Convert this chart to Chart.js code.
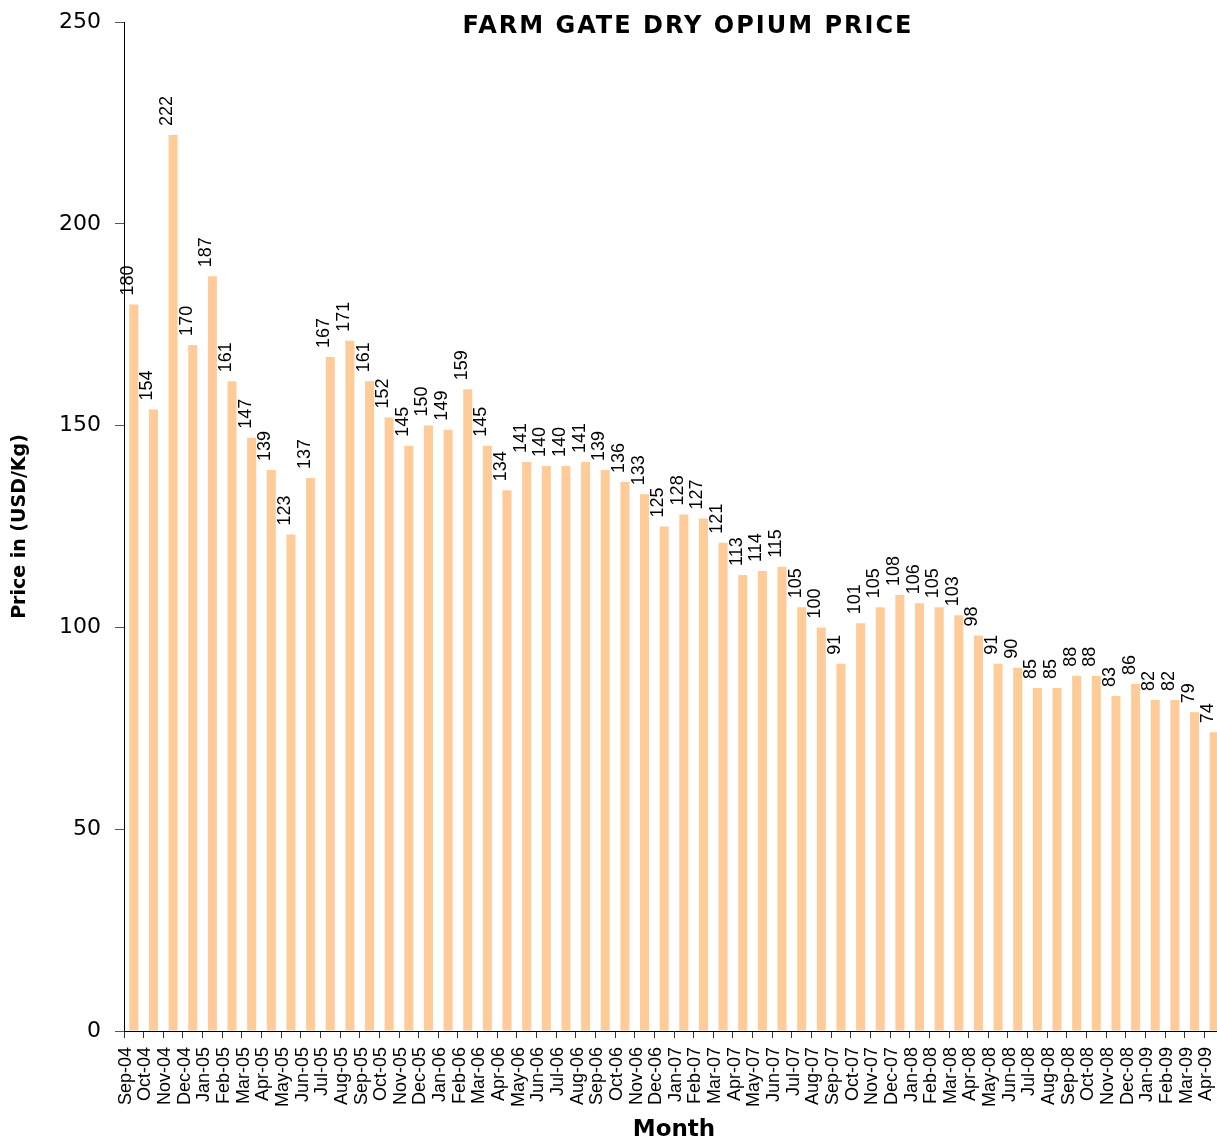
<!DOCTYPE html>
<html>
<head>
<meta charset="utf-8">
<script src="https://cdn.jsdelivr.net/npm/chart.js@4/dist/chart.umd.min.js"></script>
<style>
    html, body { margin: 0; padding: 0; overflow: hidden; background: #fff; }
    canvas { display: block; }
</style>
</head>
<body>
<canvas id="price-chart" width="1224" height="1142"></canvas>
<script>
(function() {
    "use strict";

    const chartTitle = 'FARM GATE DRY OPIUM PRICE';
    const yTitle = 'Price in (USD/Kg)';
    const xTitle = 'Month';

    const months = [
        'Sep-04', 'Oct-04', 'Nov-04', 'Dec-04',
        'Jan-05', 'Feb-05', 'Mar-05', 'Apr-05', 'May-05', 'Jun-05', 'Jul-05', 'Aug-05', 'Sep-05', 'Oct-05', 'Nov-05', 'Dec-05',
        'Jan-06', 'Feb-06', 'Mar-06', 'Apr-06', 'May-06', 'Jun-06', 'Jul-06', 'Aug-06', 'Sep-06', 'Oct-06', 'Nov-06', 'Dec-06',
        'Jan-07', 'Feb-07', 'Mar-07', 'Apr-07', 'May-07', 'Jun-07', 'Jul-07', 'Aug-07', 'Sep-07', 'Oct-07', 'Nov-07', 'Dec-07',
        'Jan-08', 'Feb-08', 'Mar-08', 'Apr-08', 'May-08', 'Jun-08', 'Jul-08', 'Aug-08', 'Sep-08', 'Oct-08', 'Nov-08', 'Dec-08',
        'Jan-09', 'Feb-09', 'Mar-09', 'Apr-09'
    ];

    const prices = [
        180, 154, 222, 170,
        187, 161, 147, 139, 123, 137, 167, 171, 161, 152, 145, 150,
        149, 159, 145, 134, 141, 140, 140, 141, 139, 136, 133, 125,
        128, 127, 121, 113, 114, 115, 105, 100, 91, 101, 105, 108,
        106, 105, 103, 98, 91, 90, 85, 85, 88, 88, 83, 86,
        82, 82, 79, 74
    ];

    const yTicks = [0, 50, 100, 150, 200, 250];

    // value labels above the bars + the title that sits inside the plot
    const barLabels = {
        id: 'barLabels',
        afterDatasetsDraw(chart) {
            const ctx = chart.ctx;
            const meta = chart.getDatasetMeta(0);
            ctx.save();
            ctx.fillStyle = '#000';
            ctx.font = '18px "Liberation Sans", Arial, sans-serif';
            ctx.textAlign = 'left';
            ctx.textBaseline = 'middle';
            meta.data.forEach(function(bar, i) {
                ctx.save();
                ctx.translate(bar.x - 6, bar.y - 9);
                ctx.rotate(-Math.PI / 2);
                ctx.fillText(String(prices[i]), 0, 0);
                ctx.restore();
            });

            const area = chart.chartArea;
            ctx.font = 'bold 24px "DejaVu Sans", sans-serif';
            ctx.letterSpacing = '2px';
            ctx.textAlign = 'center';
            ctx.fillText(chartTitle, (area.left + area.right) / 2 + 14, 27);
            ctx.restore();
        }
    };

    new Chart(document.getElementById('price-chart'), {
        type: 'bar',
        data: {
            labels: months,
            datasets: [{
                data: prices,
                backgroundColor: '#FFCC99',
                borderWidth: 0,
                barPercentage: 0.92,
                categoryPercentage: 0.5
            }]
        },
        options: {
            responsive: false,
            animation: false,
            devicePixelRatio: 1,
            layout: {
                padding: { top: 22, left: 0, right: 0, bottom: 0 }
            },
            plugins: {
                legend: { display: false },
                tooltip: { enabled: false },
                title: { display: false }
            },
            scales: {
                x: {
                    offset: true,
                    grid: {
                        offset: true,
                        drawOnChartArea: false,
                        drawTicks: true,
                        tickLength: 7,
                        color: '#333'
                    },
                    border: { display: true, color: '#000', width: 1 },
                    ticks: {
                        autoSkip: false,
                        minRotation: 90,
                        maxRotation: 90,
                        padding: 9,
                        labelOffset: -8,
                        color: '#000',
                        font: { family: '"Liberation Sans", Arial, sans-serif', size: 18 }
                    },
                    title: {
                        display: true,
                        text: xTitle,
                        color: '#000',
                        padding: 0,
                        font: { family: '"DejaVu Sans", sans-serif', size: 23, weight: 'bold', lineHeight: 1 }
                    },
                    afterFit(scale) {
                        scale.height = 111;
                        scale.paddingLeft = 0;
                        scale.paddingRight = 0;
                    }
                },
                y: {
                    min: 0,
                    max: 250,
                    afterBuildTicks(scale) {
                        scale.ticks = yTicks.map(v => ({ value: v }));
                    },
                    grid: {
                        drawOnChartArea: false,
                        drawTicks: true,
                        tickLength: 9,
                        color: '#555'
                    },
                    border: { display: true, color: '#000', width: 1 },
                    ticks: {
                        padding: 14,
                        color: '#000',
                        font: { family: '"DejaVu Sans", sans-serif', size: 22 }
                    },
                    title: {
                        display: true,
                        text: yTitle,
                        color: '#000',
                        padding: { top: 9, bottom: 0 },
                        font: { family: '"DejaVu Sans", sans-serif', size: 19, weight: 'bold' }
                    },
                    afterFit(scale) {
                        scale.width = 124;
                        scale.paddingTop = 0;
                        scale.paddingBottom = 0;
                    }
                }
            }
        },
        plugins: [barLabels]
    });
})();
</script>
</body>
</html>
